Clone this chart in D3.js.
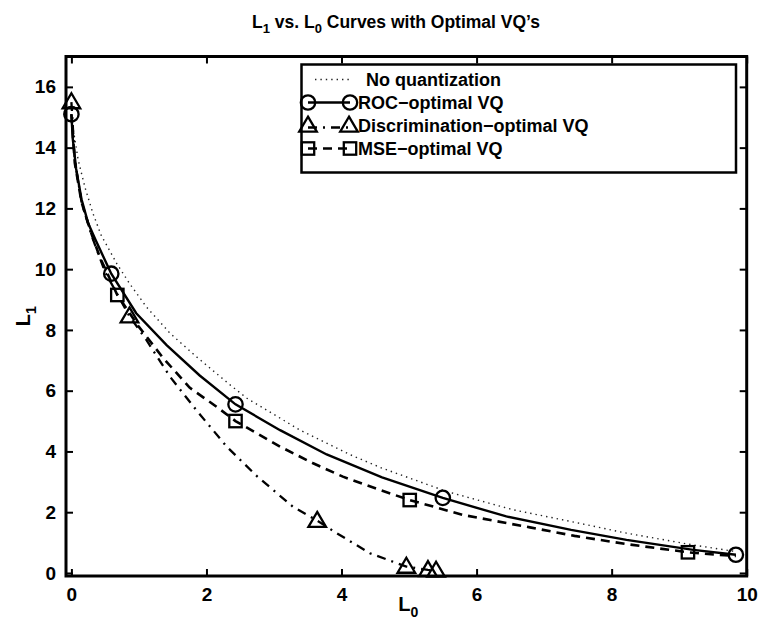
<!DOCTYPE html>
<html>
<head>
<meta charset="utf-8">
<script src="https://cdn.jsdelivr.net/npm/d3@7"></script>
<style>
  body { margin: 0; background: #fff; }
  text { font-family: "Liberation Sans", Arial, Helvetica, sans-serif; font-weight: bold; fill: #000; }
</style>
</head>
<body>
<script>
// No quantization (dotted)
var noQL0 = [0, 0.02, 0.1, 0.2, 0.32, 0.44, 0.67, 0.86, 1.11, 1.46, 1.85, 2.35, 2.6, 3.38, 4.12, 4.6, 5.56, 6.54, 7.45, 8.22, 9.21, 9.85];
var noQL1 = [15.1, 14.7, 13.6, 12.7, 11.83, 11.12, 10.19, 9.53, 8.76, 7.89, 7.12, 6.19, 5.75, 4.71, 3.9, 3.45, 2.68, 2.08, 1.67, 1.31, 0.92, 0.7];

// ROC-optimal VQ (solid, circles)
var rocL0 = [0, 0.02, 0.07, 0.15, 0.25, 0.35, 0.59, 0.96, 1.41, 1.9, 2.43, 3.09, 3.78, 4.6, 5.5, 6.44, 7.4, 8.22, 9.21, 9.84];
var rocL1 = [15.1, 14.3, 13.3, 12.3, 11.5, 11.0, 9.85, 8.55, 7.5, 6.5, 5.55, 4.7, 3.9, 3.15, 2.47, 1.86, 1.42, 1.09, 0.76, 0.6];
var rocMarkL0 = [0, 0.59, 2.43, 5.5, 9.84];
var rocMarkL1 = [15.1, 9.85, 5.55, 2.47, 0.6];

// Discrimination-optimal VQ (dash-dot, triangles)
var disL0 = [0, 0.05, 0.15, 0.3, 0.5, 0.86, 1.11, 1.46, 1.85, 2.3, 2.74, 3.28, 3.64, 3.93, 4.42, 4.96, 5.28, 5.4];
var disL1 = [15.5, 13.6, 12.2, 11.1, 9.9, 8.45, 7.67, 6.46, 5.36, 4.16, 3.2, 2.18, 1.72, 1.31, 0.65, 0.21, 0.1, 0.08];
var disMarkL0 = [0, 0.86, 3.64, 4.96, 5.28, 5.4];
var disMarkL1 = [15.5, 8.45, 1.72, 0.21, 0.1, 0.08];

// MSE-optimal VQ (dashed, squares)
var mseL0 = [0, 0.05, 0.15, 0.3, 0.42, 0.68, 1.0, 1.35, 1.75, 2.15, 2.43, 3.09, 3.58, 4.02, 4.57, 5.01, 5.8, 6.79, 7.45, 8.22, 9.13, 9.56, 9.84];
var mseL1 = [15.1, 13.5, 12.2, 11.15, 10.4, 9.15, 8.1, 7.1, 6.1, 5.47, 5.0, 4.16, 3.61, 3.17, 2.73, 2.4, 1.91, 1.5, 1.22, 0.95, 0.68, 0.6, 0.56];
var mseMarkL0 = [0.68, 2.43, 5.01, 9.13];
var mseMarkL1 = [9.15, 5.0, 2.4, 0.68];

var xTicks = [0, 2, 4, 6, 8, 10];
var yTicks = [0, 2, 4, 6, 8, 10, 12, 14, 16];
var legendLabels = ["No quantization", "ROC\u2212optimal VQ", "Discrimination\u2212optimal VQ", "MSE\u2212optimal VQ"];

var width = 763, height = 637;
var margin = {left: 66, right: 16.3, top: 56.5, bottom: 61};
var w = width - margin.left - margin.right;
var h = height - margin.top - margin.bottom;

var svg = d3.select("body").append("svg").attr("width", width).attr("height", height);
svg.append("rect").attr("width", width).attr("height", height).attr("fill", "#fff");

var x = d3.scaleLinear().domain([-0.08, 10]).range([0, w]);
var y = d3.scaleLinear().domain([-0.1, 17]).range([h, 0]);

var g = svg.append("g").attr("transform", "translate(" + margin.left + "," + margin.top + ")");

function zip(a, b) { return a.map(function(v, i) { return [v, b[i]]; }); }

var line = d3.line().x(function(d){ return x(d[0]); }).y(function(d){ return y(d[1]); });

// curves
g.append("path").attr("d", line(zip(noQL0, noQL1)))
  .attr("fill", "none").attr("stroke", "#222").attr("stroke-width", 1.4).attr("stroke-dasharray", "1.4,4");
g.append("path").attr("d", line(zip(rocL0, rocL1)))
  .attr("fill", "none").attr("stroke", "#000").attr("stroke-width", 2.4);
g.append("path").attr("d", line(zip(disL0, disL1)))
  .attr("fill", "none").attr("stroke", "#000").attr("stroke-width", 2.3).attr("stroke-dasharray", "9,6,2,6");
g.append("path").attr("d", line(zip(mseL0, mseL1)))
  .attr("fill", "none").attr("stroke", "#000").attr("stroke-width", 2.6).attr("stroke-dasharray", "9,6");

// markers
function circleM(sel, cx, cy) {
  sel.append("circle").attr("cx", cx).attr("cy", cy).attr("r", 7.2)
    .attr("fill", "none").attr("stroke", "#000").attr("stroke-width", 2.3);
}
function triM(sel, cx, cy) {
  var s = 8.8;
  sel.append("path").attr("d", "M" + cx + "," + (cy - s) + "L" + (cx + s) + "," + (cy + s * 0.7) + "L" + (cx - s) + "," + (cy + s * 0.7) + "Z")
    .attr("fill", "none").attr("stroke", "#000").attr("stroke-width", 2.3).attr("stroke-linejoin", "miter");
}
function sqM(sel, cx, cy) {
  var s = 6.2;
  sel.append("rect").attr("x", cx - s).attr("y", cy - s).attr("width", 2 * s).attr("height", 2 * s)
    .attr("fill", "none").attr("stroke", "#000").attr("stroke-width", 2.3);
}

rocMarkL0.forEach(function(v, i){ circleM(g, x(v), y(rocMarkL1[i])); });
disMarkL0.forEach(function(v, i){ triM(g, x(v), y(disMarkL1[i])); });
mseMarkL0.forEach(function(v, i){ sqM(g, x(v), y(mseMarkL1[i])); });

// axes box with inward ticks
var tickLen = 7;
var xAxisB = d3.axisBottom(x).tickValues(xTicks).tickSizeInner(-tickLen).tickSizeOuter(0).tickPadding(12);
var xAxisT = d3.axisTop(x).tickValues(xTicks).tickSizeInner(-tickLen).tickSizeOuter(0).tickFormat("");
var yAxisL = d3.axisLeft(y).tickValues(yTicks).tickSizeInner(-tickLen).tickSizeOuter(0).tickPadding(10);
var yAxisR = d3.axisRight(y).tickValues(yTicks).tickSizeInner(-tickLen).tickSizeOuter(0).tickFormat("");

var axes = [
  g.append("g").attr("transform", "translate(0," + h + ")").call(xAxisB),
  g.append("g").call(xAxisT),
  g.append("g").call(yAxisL),
  g.append("g").attr("transform", "translate(" + w + ",0)").call(yAxisR)
];
axes.forEach(function(a){
  a.select(".domain").remove();
  a.selectAll(".tick line").attr("stroke", "#000").attr("stroke-width", 2);
  a.selectAll(".tick text").style("font-size", "19px").style("font-family", "Liberation Sans, Arial, sans-serif").style("font-weight", "bold");
});

g.append("rect").attr("x", 0).attr("y", 0).attr("width", w).attr("height", h)
  .attr("fill", "none").attr("stroke", "#000").attr("stroke-width", 3);

// title
var title = svg.append("text").attr("x", 396).attr("y", 28).attr("text-anchor", "middle").style("font-size", "17.5px");
title.append("tspan").text("L");
title.append("tspan").attr("dy", 5).style("font-size", "13px").text("1");
title.append("tspan").attr("dy", -5).text(" vs. L");
title.append("tspan").attr("dy", 5).style("font-size", "13px").text("0");
title.append("tspan").attr("dy", -5).text(" Curves with Optimal VQ\u2019s");

// x label
var xl = svg.append("text").attr("x", margin.left + w / 2 + 2).attr("y", 611).attr("text-anchor", "middle").style("font-size", "20px");
xl.append("tspan").text("L");
xl.append("tspan").attr("dy", 6).style("font-size", "14px").text("0");

// y label
var yl = svg.append("text").attr("transform", "translate(30," + (margin.top + h / 2) + ") rotate(-90)")
  .attr("text-anchor", "middle").style("font-size", "20px");
yl.append("tspan").text("L");
yl.append("tspan").attr("dy", 6).style("font-size", "14px").text("1");

// legend
var lg = svg.append("g");
lg.append("rect").attr("x", 301.5).attr("y", 64.5).attr("width", 434.5).attr("height", 108)
  .attr("fill", "#fff").attr("stroke", "#000").attr("stroke-width", 2.5);
var rowY = [79.5, 102.5, 125.5, 148.5];
var textX = [366, 358, 358, 358];
legendLabels.forEach(function(t, i){
  lg.append("text").attr("x", textX[i]).attr("y", rowY[i]).attr("dy", "0.36em").style("font-size", "18px").text(t);
});
lg.append("line").attr("x1", 315).attr("x2", 350).attr("y1", rowY[0]).attr("y2", rowY[0])
  .attr("stroke", "#222").attr("stroke-width", 1.4).attr("stroke-dasharray", "1.4,4");
lg.append("line").attr("x1", 308).attr("x2", 350).attr("y1", rowY[1]).attr("y2", rowY[1])
  .attr("stroke", "#000").attr("stroke-width", 2.4);
circleM(lg, 308, rowY[1]); circleM(lg, 350, rowY[1]);
lg.append("line").attr("x1", 308).attr("x2", 350).attr("y1", rowY[2] + 2).attr("y2", rowY[2] + 2)
  .attr("stroke", "#000").attr("stroke-width", 2.3).attr("stroke-dasharray", "9,6,2,6");
triM(lg, 308, rowY[2]); triM(lg, 349, rowY[2]);
lg.append("line").attr("x1", 308).attr("x2", 350).attr("y1", rowY[3]).attr("y2", rowY[3])
  .attr("stroke", "#000").attr("stroke-width", 2.6).attr("stroke-dasharray", "9,6");
sqM(lg, 308, rowY[3]); sqM(lg, 350, rowY[3]);
</script>
</body>
</html>
